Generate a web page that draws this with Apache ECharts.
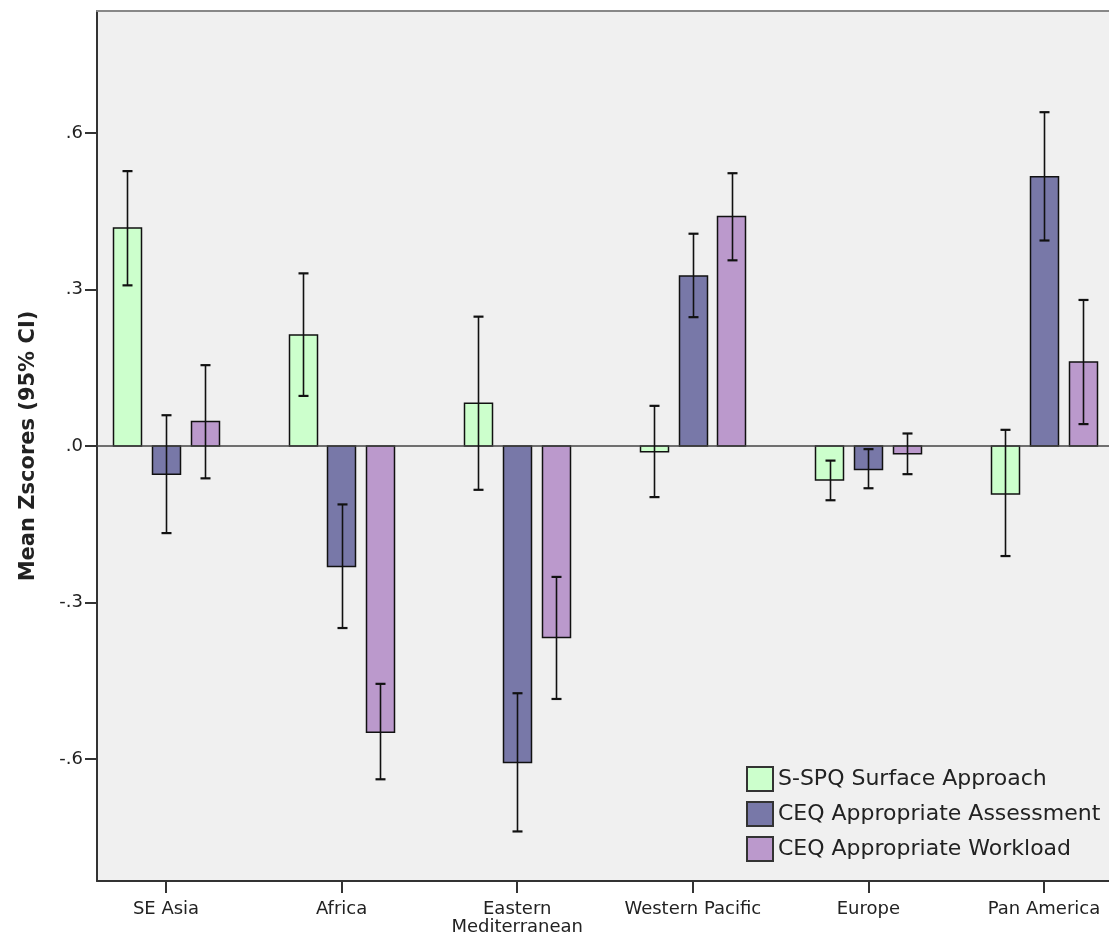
<!DOCTYPE html>
<html>
<head>
<meta charset="utf-8">
<title>Mean Zscores by region</title>
<script src="https://cdn.jsdelivr.net/npm/echarts@6/dist/echarts.min.js"></script>
<style>
  html, body { margin: 0; padding: 0; background: #ffffff; }
  #chart { width: 1109px; height: 937px; }
</style>
</head>
<body>
<div id="chart"></div>
<script>
// Regions on the x axis
const categories = ['SE Asia', 'Africa', 'Eastern\nMediterranean', 'Western Pacific', 'Europe', 'Pan America'];

// Series names
const seriesNames = ['S-SPQ Surface Approach', 'CEQ Appropriate Assessment', 'CEQ Appropriate Workload'];

// Means and 95% confidence limits per region
const surfaceMean  = [0.418, 0.213, 0.082, -0.011, -0.065, -0.092];
const surfaceLow   = [0.308, 0.096, -0.084, -0.098, -0.104, -0.211];
const surfaceHigh  = [0.527, 0.331, 0.248, 0.077, -0.028, 0.031];

const assessMean   = [-0.054, -0.231, -0.607, 0.326, -0.045, 0.516];
const assessLow    = [-0.167, -0.349, -0.739, 0.247, -0.081, 0.394];
const assessHigh   = [0.059, -0.112, -0.474, 0.407, -0.006, 0.640];

const workloadMean = [0.047, -0.549, -0.367, 0.440, -0.015, 0.161];
const workloadLow  = [-0.062, -0.639, -0.485, 0.356, -0.054, 0.042];
const workloadHigh = [0.155, -0.456, -0.251, 0.523, 0.024, 0.280];

// Y axis tick values
const yTicks = [-0.6, -0.3, 0, 0.3, 0.6];

const colors = ['#ccffcc', '#7878a8', '#bb99cc'];
const FONT = 'DejaVu Sans';
const BAR_W = 0.162;      // bar width in category units
const BAR_STEP = 0.221;   // offset between neighbouring bars in a group
const CAP_PX = 10;        // error-bar cap width in pixels

function fmtTick(v) {
  if (Math.abs(v) < 1e-9) return '.0';
  const s = v.toFixed(1);
  return s.replace('0.', '.');
}

function barSeries(name, means, color, k) {
  const offset = (k - 1) * BAR_STEP;
  return {
    name: name,
    type: 'custom',
    z: 2,
    itemStyle: { color: color, borderColor: '#111', borderWidth: 1.5 },
    data: means.map((v, i) => [i, v]),
    renderItem: function (params, api) {
      const x = api.value(0) + offset;
      const v = api.value(1);
      const p0 = api.coord([x, 0]);
      const p1 = api.coord([x, v]);
      const w = api.size([BAR_W, 0])[0];
      return {
        type: 'rect',
        shape: {
          x: Math.round(p0[0] - w / 2) + 0.5,
          y: Math.min(p0[1], p1[1]),
          width: Math.round(w),
          height: Math.abs(p1[1] - p0[1])
        },
        style: api.style()
      };
    }
  };
}

function errorSeries(name, lows, highs, k, withZero) {
  const offset = (k - 1) * BAR_STEP;
  const s = {
    name: name,
    type: 'custom',
    z: 4,
    silent: true,
    data: lows.map((lo, i) => [i, lo, highs[i]]),
    renderItem: function (params, api) {
      const x = api.value(0) + offset;
      const pl = api.coord([x, api.value(1)]);
      const ph = api.coord([x, api.value(2)]);
      const cx = Math.round(pl[0]) + 0.5;
      const st = { stroke: '#111', lineWidth: 1.6 };
      return {
        type: 'group',
        children: [
          { type: 'line', shape: { x1: cx, y1: pl[1], x2: cx, y2: ph[1] }, style: st },
          { type: 'line', shape: { x1: cx - CAP_PX / 2, y1: pl[1], x2: cx + CAP_PX / 2, y2: pl[1] }, style: { stroke: '#111', lineWidth: 2.2 } },
          { type: 'line', shape: { x1: cx - CAP_PX / 2, y1: ph[1], x2: cx + CAP_PX / 2, y2: ph[1] }, style: { stroke: '#111', lineWidth: 2.2 } }
        ]
      };
    }
  };
  if (withZero) {
    s.markLine = {
      silent: true,
      symbol: 'none',
      label: { show: false },
      lineStyle: { color: '#444', width: 1.6, type: 'solid' },
      data: [{ yAxis: 0 }],
      z: 3
    };
  }
  return s;
}

const chart = echarts.init(document.getElementById('chart'), null, { renderer: 'canvas' });

chart.setOption({
  backgroundColor: '#ffffff',
  animation: false,
  textStyle: { fontFamily: FONT },
  grid: {
    left: 97, right: -4, top: 11, bottom: 56,
    show: true, backgroundColor: '#f0f0f0', borderWidth: 0,
    containLabel: false, outerBoundsMode: 'none'
  },
  legend: {
    orient: 'vertical',
    left: 741, top: 761,
    itemWidth: 26, itemHeight: 24, itemGap: 9,
    icon: 'rect',
    selectedMode: false,
    textStyle: { fontSize: 22, lineHeight: 24, color: '#222', fontFamily: FONT },
    data: seriesNames.map((n, k) => ({
      name: n,
      itemStyle: { color: colors[k], borderColor: '#333', borderWidth: 2 }
    }))
  },
  xAxis: [
    {
      type: 'value',
      min: -0.393, max: 5.393,
      position: 'bottom',
      splitLine: { show: false },
      axisLine: { show: true, onZero: false, lineStyle: { color: '#333', width: 2 } },
      axisTick: {
        show: true, length: 12, inside: false,
        customValues: categories.map((c, i) => i),
        lineStyle: { color: '#333', width: 2 }
      },
      axisLabel: {
        show: true, margin: 19,
        customValues: categories.map((c, i) => i),
        formatter: v => categories[Math.round(v)] || '',
        fontSize: 18, color: '#222', lineHeight: 18, fontFamily: FONT
      }
    },
    {
      type: 'value',
      min: -0.393, max: 5.393,
      position: 'top',
      splitLine: { show: false },
      axisLine: { show: true, onZero: false, lineStyle: { color: '#888', width: 2 } },
      axisTick: { show: false },
      axisLabel: { show: false }
    }
  ],
  yAxis: {
    type: 'value',
    min: -0.834, max: 0.834,
    name: 'Mean Zscores (95% CI)',
    nameLocation: 'middle',
    nameGap: 58,
    nameTextStyle: { fontSize: 21, fontWeight: 'bold', color: '#222', fontFamily: FONT },
    splitLine: { show: false },
    axisLine: { show: true, onZero: false, lineStyle: { color: '#333', width: 2 } },
    axisTick: {
      show: true, length: 12, inside: false,
      customValues: yTicks,
      lineStyle: { color: '#333', width: 2 }
    },
    axisLabel: {
      show: true, margin: 14,
      customValues: yTicks,
      formatter: fmtTick,
      fontSize: 18, color: '#222', fontFamily: FONT
    }
  },
  series: [
    barSeries(seriesNames[0], surfaceMean, colors[0], 0),
    barSeries(seriesNames[1], assessMean, colors[1], 1),
    barSeries(seriesNames[2], workloadMean, colors[2], 2),
    errorSeries('err-surface', surfaceLow, surfaceHigh, 0, true),
    errorSeries('err-assess', assessLow, assessHigh, 1, false),
    errorSeries('err-workload', workloadLow, workloadHigh, 2, false)
  ]
});
</script>
</body>
</html>
